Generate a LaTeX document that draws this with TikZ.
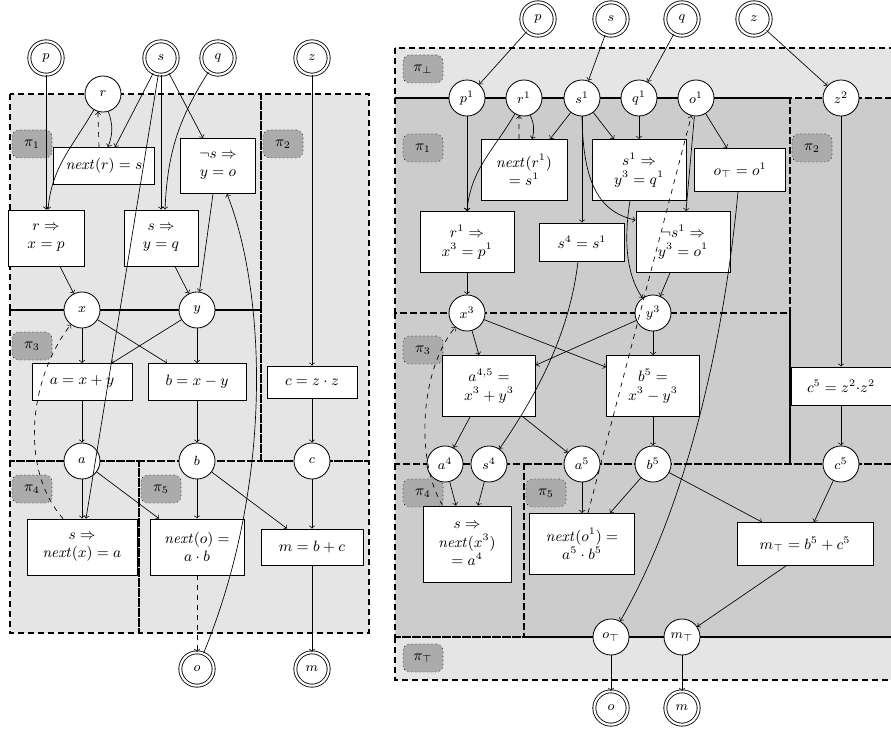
\documentclass[tikz,border=0pt]{standalone}
\usetikzlibrary{calc}
\begin{document}
\begin{tikzpicture}[x=0.6pt,y=-0.6pt,
  var/.style={circle,draw,fill=white,minimum size=21.6pt,inner sep=0pt,font=\footnotesize,line width=0.5pt},
  io/.style={circle,draw,fill=white,double,double distance=1.3pt,minimum size=20pt,inner sep=0pt,font=\footnotesize,line width=0.5pt},
  bx/.style={rectangle,draw,fill=white,align=center,inner sep=0pt,font=\small,line width=0.5pt},
  plab/.style={rectangle,rounded corners=4pt,draw,dotted,fill=black!33,minimum width=24pt,minimum height=16.8pt,inner sep=0pt,font=\small},
  regl/.style={fill=black!10},
  regd/.style={fill=black!20},
  regb/.style={draw,line width=1.2pt,dash pattern=on 3.6pt off 2.4pt},
  ed/.style={->,line width=0.4pt},
  ded/.style={->,line width=0.4pt,dashed}
]
\useasboundingbox (0,0) rectangle (891,733);
\clip (0,0) rectangle (891,733);
% ---------- regions left ----------
\fill[regl] (10,94) rectangle (369,633);
\draw[regb] (10,94) rectangle (261,310);
\draw[regb] (261,94) rectangle (369,461);
\draw[regb] (10,310) rectangle (261,461);
\draw[regb] (10,461) rectangle (139,633);
\draw[regb] (139,461) rectangle (369,633);
% ---------- regions right ----------
\fill[regl] (395,48) rectangle (900,98);
\fill[regd] (395,98) rectangle (900,637);
\fill[regl] (395,637) rectangle (900,680);
\draw[regb] (395,48) rectangle (900,98);
\draw[regb] (395,98) rectangle (790,313);
\draw[regb] (790,98) rectangle (900,464);
\draw[regb] (395,313) rectangle (790,464);
\draw[regb] (395,464) rectangle (524,637);
\draw[regb] (524,464) rectangle (900,637);
\draw[regb] (395,637) rectangle (900,680);
% ---------- partition labels ----------
\node[plab] (L1) at (32,144) {$\pi_1$};
\node[plab] (L2) at (283,144) {$\pi_2$};
\node[plab] (L3) at (32,346) {$\pi_3$};
\node[plab] (L4) at (32,489) {$\pi_4$};
\node[plab] (L5) at (161,489) {$\pi_5$};
\node[plab] (R0) at (423,69) {$\pi_\bot$};
\node[plab] (R1) at (423,148) {$\pi_1$};
\node[plab] (R2) at (812,148) {$\pi_2$};
\node[plab] (R3) at (423,350) {$\pi_3$};
\node[plab] (R4) at (423,493) {$\pi_4$};
\node[plab] (R5) at (546,493) {$\pi_5$};
\node[plab] (RT) at (423,658) {$\pi_\top$};
% ---------- left nodes ----------
\node[io] (p) at (46,58) {$p$};
\node[io] (s) at (161,58) {$s$};
\node[io] (q) at (218,58) {$q$};
\node[io] (z) at (312,58) {$z$};
\node[var] (r) at (103,94) {$r$};
\node[bx,minimum width=60.6pt,minimum height=22.2pt] (nr) at (104,166) {$\mathit{next}(r) = s$};
\node[bx,minimum width=45pt,minimum height=33pt] (ns) at (218,166) {$\neg s \Rightarrow$\\$y = o$};
\node[bx,minimum width=45.6pt,minimum height=33.6pt] (rx) at (46,238) {$r \Rightarrow$\\$x = p$};
\node[bx,minimum width=44.4pt,minimum height=33.6pt] (sy) at (161,238) {$s \Rightarrow$\\$y = q$};
\node[var] (x) at (82,310) {$x$};
\node[var] (y) at (197,310) {$y$};
\node[bx,minimum width=60pt,minimum height=22.2pt] (axy) at (82,382) {$a = x + y$};
\node[bx,minimum width=58.8pt,minimum height=22.2pt] (bxy) at (197,382) {$b = x - y$};
\node[bx,minimum width=54pt,minimum height=19.2pt] (czz) at (312,382) {$c = z \cdot z$};
\node[var] (a) at (82,461) {$a$};
\node[var] (b) at (197,461) {$b$};
\node[var] (c) at (312,461) {$c$};
\node[bx,minimum width=66pt,minimum height=33.6pt] (snx) at (82,547) {$s \Rightarrow$\\$\mathit{next}(x) = a$};
\node[bx,minimum width=56.4pt,minimum height=33.6pt] (nob) at (197,547) {$\mathit{next}(o) =$\\$a \cdot b$};
\node[bx,minimum width=61.2pt,minimum height=21.6pt] (mbc) at (312,547) {$m = b + c$};
\node[io] (o) at (197,669) {$o$};
\node[io] (m) at (312,669) {$m$};
% ---------- right nodes ----------
\node[io] (P) at (538,19) {$p$};
\node[io] (S) at (611,19) {$s$};
\node[io] (Q) at (682,19) {$q$};
\node[io] (Z) at (754,19) {$z$};
\node[var] (p1) at (467,98) {$p^1$};
\node[var] (r1) at (524,98) {$r^1$};
\node[var] (s1) at (582,98) {$s^1$};
\node[var] (q1) at (639,98) {$q^1$};
\node[var] (o1) at (696,98) {$o^1$};
\node[var] (z2) at (841,98) {$z^2$};
\node[bx,minimum width=51.6pt,minimum height=36.6pt] (nr1) at (524,170) {$\mathit{next}(r^1)$\\$= s^1$};
\node[bx,minimum width=56.4pt,minimum height=36.6pt] (sq1) at (639,170) {$s^1 \Rightarrow$\\$y^3 = q^1$};
\node[bx,minimum width=54.6pt,minimum height=25.8pt] (ot1) at (740,170) {$o_\top = o^1$};
\node[bx,minimum width=56.4pt,minimum height=36.6pt] (rx1) at (467,242) {$r^1 \Rightarrow$\\$x^3 = p^1$};
\node[bx,minimum width=51pt,minimum height=22.8pt] (s41) at (582,242) {$s^4 = s^1$};
\node[bx,minimum width=56.4pt,minimum height=36.6pt] (ns1) at (683,242) {$\neg s^1 \Rightarrow$\\$y^3 = o^1$};
\node[var] (x3) at (467,313) {$x^3$};
\node[var] (y3) at (653,313) {$y^3$};
\node[bx,minimum width=55.8pt,minimum height=36.6pt] (a45) at (489,386) {$a^{4,5} =$\\$x^3 + y^3$};
\node[bx,minimum width=55.8pt,minimum height=36.6pt] (b5b) at (653,386) {$b^5 =$\\$x^3 - y^3$};
\node[bx,minimum width=60pt,minimum height=22.8pt] (c5b) at (841,386) {$c^5 = z^2{\cdot}z^2$};
\node[var] (a4) at (445,464) {$a^4$};
\node[var] (s4) at (489,464) {$s^4$};
\node[var] (a5) at (582,464) {$a^5$};
\node[var] (b5) at (653,464) {$b^5$};
\node[var] (c5) at (841,464) {$c^5$};
\node[bx,minimum width=52.8pt,minimum height=45.6pt] (snx3) at (467,544) {$s \Rightarrow$\\$\mathit{next}(x^3)$\\$= a^4$};
\node[bx,minimum width=63pt,minimum height=36.6pt] (no1) at (582,544) {$\mathit{next}(o^1) =$\\$a^5 \cdot b^5$};
\node[bx,minimum width=81.6pt,minimum height=25.8pt] (mt) at (805,544) {$m_\top = b^5 + c^5$};
\node[var] (oT) at (611,637) {$o_\top$};
\node[var] (mT) at (682,637) {$m_\top$};
\node[io] (O) at (611,708) {$o$};
\node[io] (M) at (682,708) {$m$};
% ---------- left edges ----------
\draw[ed] (p) -- (rx);
\draw[ed] (r) to[out=240,in=85] ($(rx.north)+(2,0)$);
\draw[ed] (r.-73) to[bend left=20] ($(nr.north)+(4,0)$);
\draw[ded] ($(nr.north)+(-5,0)$) -- (r.254);
\draw[ed] (s) -- ($(nr.north)+(11,0)$);
\draw[ed] (s) -- (sy);
\draw[ed] (s) -- ($(ns.north)+(-15,0)$);
\draw[ed] (s) -- ($(snx.north)+(4,0)$);
\draw[ed] (q) to[bend right=15] ($(sy.north)+(4,0)$);
\draw[ed] ($(rx.south)+(14,0)$) -- (x);
\draw[ed] ($(sy.south)+(14,0)$) -- (y);
\draw[ed] ($(ns.south)+(-5,0)$) -- (y);
\draw[ed] (o) .. controls (275,480) and (265,290) .. ($(ns.south)+(9,0)$);
\draw[ed] (x) -- (axy);
\draw[ed] (x) -- ($(bxy.north)+(-30,0)$);
\draw[ed] (y) -- ($(axy.north)+(30,0)$);
\draw[ed] (y) -- (bxy);
\draw[ed] (axy) -- (a);
\draw[ed] (bxy) -- (b);
\draw[ed] (z) -- (czz);
\draw[ed] (czz) -- (c);
\draw[ed] (a) -- (snx);
\draw[ed] (a) -- ($(nob.north)+(-38,0)$);
\draw[ed] (b) -- (nob);
\draw[ed] (b) -- ($(mbc.north)+(-25,0)$);
\draw[ed] (c) -- (mbc);
\draw[ed] (mbc) -- (m);
\draw[ded] (nob) -- (o);
\draw[ded] ($(snx.north)+(-19,0)$) .. controls (20,470) and (28,380) .. (x);
% ---------- right edges ----------
\draw[ed] (P) -- (p1);
\draw[ed] (S) -- (s1);
\draw[ed] (Q) -- (q1);
\draw[ed] (Z) -- (z2);
\draw[ed] (p1) -- (rx1);
\draw[ed] (r1) to[out=240,in=85] (rx1.north);
\draw[ed] (r1.-70) to[bend left=20] ($(nr1.north)+(8,0)$);
\draw[ded] ($(nr1.north)+(-5,0)$) -- (r1.254);
\draw[ed] (s1) -- ($(nr1.north)+(26,0)$);
\draw[ed] (s1) -- ($(sq1.north)+(-25,0)$);
\draw[ed] (s1) -- (s41);
\draw[ed] (s1.south) .. controls (583,185) and (600,212) .. ($(ns1.north west)+(0,9)$);
\draw[ed] (q1) -- (sq1);
\draw[ed] (o1) -- ($(ot1.north)+(-13,0)$);
\draw[ed] (o1) -- ($(ns1.north)+(3,0)$);
\draw[ded] ($(no1.north)+(6,0)$) -- (o1);
\draw[ed] ($(sq1.south)+(-9,0)$) .. controls (622,250) and (630,280) .. (y3);
\draw[ed] ($(ns1.south)+(-13,0)$) -- (y3);
\draw[ed] (rx1) -- (x3);
\draw[ed] ($(s41.south)+(-4,0)$) .. controls (570,330) and (540,390) .. (s4);
\draw[ed] ($(ot1.south)+(-2,0)$) .. controls (725,330) and (690,500) .. (oT);
\draw[ed] (x3) -- ($(a45.north)+(-10,0)$);
\draw[ed] (x3) -- ($(b5b.north west)+(0,12)$);
\draw[ed] (y3) -- ($(a45.north east)+(0,10)$);
\draw[ed] (y3) -- (b5b);
\draw[ed] ($(a45.south)+(-19,0)$) -- (a4);
\draw[ed] ($(a45.south)+(34,0)$) -- (a5);
\draw[ed] (b5b) -- (b5);
\draw[ed] (z2) -- (c5b);
\draw[ed] (c5b) -- (c5);
\draw[ed] (a4) -- ($(snx3.north)+(-11,0)$);
\draw[ed] (s4) -- ($(snx3.north)+(11,0)$);
\draw[ded] ($(snx3.north west)+(20,0)$) .. controls (415,460) and (420,370) .. (x3);
\draw[ed] (a5) -- (no1);
\draw[ed] (b5) -- ($(no1.north)+(28,0)$);
\draw[ed] (b5) -- ($(mt.north)+(-43,0)$);
\draw[ed] (c5) -- ($(mt.north)+(9,0)$);
\draw[ed] ($(mt.south)+(-19,0)$) -- (mT);
\draw[ed] (oT) -- (O);
\draw[ed] (mT) -- (M);
\end{tikzpicture}
\end{document}
